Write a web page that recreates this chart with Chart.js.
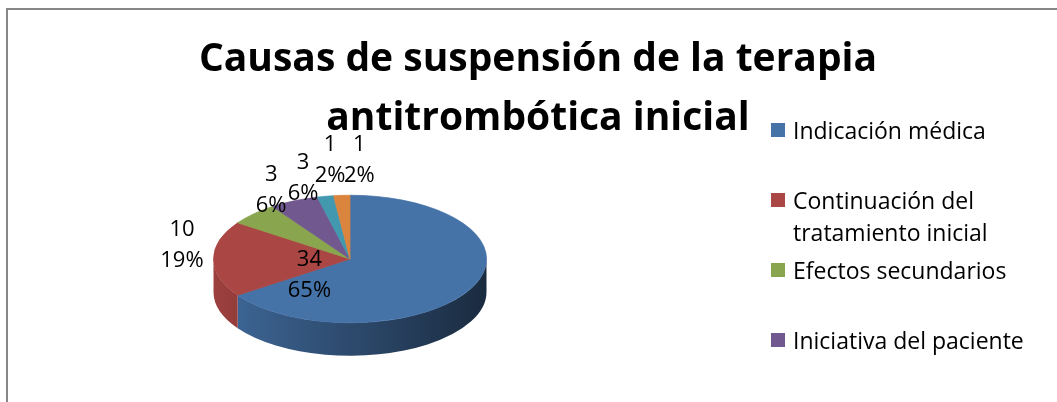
<!DOCTYPE html>
<html lang="es">
<head>
<meta charset="utf-8">
<title>Causas de suspensión de la terapia antitrombótica inicial</title>
<script src="https://cdn.jsdelivr.net/npm/chart.js@4.4.1/dist/chart.umd.min.js"></script>
<style>
  html, body { margin: 0; padding: 0; background: #fff; }
  body {
    position: relative;
    width: 1057px;
    height: 402px;
    overflow: hidden;
    font-family: 'Open Sans', 'DejaVu Sans', sans-serif;
    color: #000;
  }
  .frame {
    position: absolute;
    left: 6px;
    top: 8px;
    width: 1200px;
    height: 600px;
    border-left: 2px solid #878787;
    border-top: 2px solid #878787;
  }
  .chart-box {
    position: absolute;
    left: 0;
    top: 0;
    width: 1057px;
    height: 402px;
  }
  .chart-title {
    position: absolute;
    left: 0;
    top: 26px;
    width: 1076px;
    text-align: center;
    font-weight: 700;
    font-size: 39px;
    line-height: 59px;
  }
  .legend {
    position: absolute;
    left: 771px;
    top: 114px;
    width: 280px;
    height: 256px;
    overflow: hidden;
  }
  .legend-item {
    position: absolute;
    left: 0;
    width: 280px;
  }
  .legend-box {
    position: absolute;
    left: 0;
    top: 9px;
    width: 14px;
    height: 14px;
  }
  .legend-text {
    margin-left: 22px;
    width: 245px;
    font-size: 23px;
    line-height: 32px;
  }
</style>
</head>
<body>
<div class="frame"></div>
<div class="chart-box"><canvas id="pie"></canvas></div>
<div class="chart-title">Causas de suspensión de la terapia<br>antitrombótica inicial</div>
<div class="legend" id="legend"></div>

<script>
const categories = [
  'Indicación médica',
  'Continuación del tratamiento inicial',
  'Efectos secundarios',
  'Iniciativa del paciente',
  'Otras causas',
  'No especificada'
];
const values = [34, 10, 3, 3, 1, 1];
const colors = ['#4572A7', '#AA4643', '#89A54E', '#71588F', '#4198AF', '#DB843D'];

const flatten = 0.467;   // vertical squash of the pie top
const depth = 33;        // height of the visible rim, px

// darken a hex colour by factor f
function shade(hex, f) {
  const n = parseInt(hex.slice(1), 16);
  const r = Math.round(((n >> 16) & 255) * f);
  const g = Math.round(((n >> 8) & 255) * f);
  const b = Math.round((n & 255) * f);
  return `rgb(${r}, ${g}, ${b})`;
}

// squash the pie into an ellipse and draw the front rim under it
const pie3d = {
  id: 'pie3d',
  beforeDatasetsDraw(chart) {
    const ctx = chart.ctx;
    const arcs = chart.getDatasetMeta(0).data;
    if (!arcs.length) return;
    const cx = arcs[0].x;
    const cy = arcs[0].y;
    const r = arcs[0].outerRadius;
    ctx.save();
    ctx.translate(0, cy);
    ctx.scale(1, flatten);
    ctx.translate(0, -cy);

    const drop = depth / flatten;
    arcs.forEach((arc, i) => {
      // only the part facing the viewer (0..PI) shows
      const a0 = Math.max(arc.startAngle, 0);
      const a1 = Math.min(arc.endAngle, Math.PI);
      if (a1 <= a0) return;
      const grad = ctx.createLinearGradient(cx - r, 0, cx + r, 0);
      grad.addColorStop(0, shade(colors[i], 0.92));
      grad.addColorStop(0.5, shade(colors[i], 0.65));
      grad.addColorStop(1, shade(colors[i], 0.38));
      ctx.beginPath();
      ctx.arc(cx, cy, r, a0, a1);
      ctx.arc(cx, cy + drop, r, a1, a0, true);
      ctx.closePath();
      ctx.fillStyle = grad;
      ctx.fill();
    });
  },
  afterDatasetsDraw(chart) {
    if (chart.getDatasetMeta(0).data.length) chart.ctx.restore();
  }
};

// value + percentage labels, placed from each slice's own angle
const sliceLabels = {
  id: 'sliceLabels',
  afterDraw(chart, args, opts) {
    const ctx = chart.ctx;
    const total = values.reduce((s, v) => s + v, 0);
    ctx.save();
    ctx.font = '22px "Open Sans", sans-serif';
    ctx.fillStyle = '#000';
    ctx.textAlign = 'center';
    ctx.textBaseline = 'middle';
    chart.getDatasetMeta(0).data.forEach((arc, i) => {
      const mid = (arc.startAngle + arc.endAngle) / 2 + opts.turn[i] * Math.PI / 180;
      const reach = arc.outerRadius * opts.reach[i];
      const x = arc.x + Math.cos(mid) * reach;
      const y = arc.y + Math.sin(mid) * reach * flatten;
      ctx.fillText(String(values[i]), x, y - 15.5);
      ctx.fillText(Math.round(values[i] / total * 100) + '%', x, y + 15.5);
    });
    ctx.restore();
  }
};

new Chart(document.getElementById('pie'), {
  type: 'pie',
  data: {
    labels: categories,
    datasets: [{
      data: values,
      backgroundColor: colors,
      borderColor: colors,
      borderWidth: 1,
      clip: false
    }]
  },
  options: {
    responsive: true,
    maintainAspectRatio: false,
    animation: false,
    events: [],
    layout: {
      padding: { left: 213, right: 570, top: 122, bottom: 6 }
    },
    plugins: {
      legend: { display: false },
      tooltip: { enabled: false },
      title: { display: false },
      sliceLabels: {
        reach: [0.39, 1.25, 1.23, 1.31, 1.556, 1.55],
        turn: [112, 10, 17, 9, 5, 6]
      }
    }
  },
  plugins: [pie3d, sliceLabels]
});

// legend rows, evenly spaced like the original (the last ones fall outside the box)
const legend = document.getElementById('legend');
categories.forEach((name, i) => {
  const item = document.createElement('div');
  item.className = 'legend-item';
  item.style.top = (i * 70) + 'px';
  const box = document.createElement('div');
  box.className = 'legend-box';
  box.style.background = colors[i];
  const text = document.createElement('div');
  text.className = 'legend-text';
  text.textContent = name;
  item.appendChild(box);
  item.appendChild(text);
  legend.appendChild(item);
});
</script>
</body>
</html>
